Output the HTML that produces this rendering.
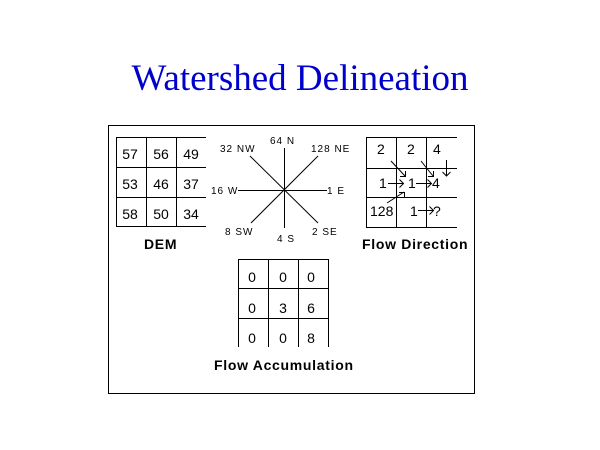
<!DOCTYPE html>
<html>
<head>
<meta charset="utf-8">
<style>
  html, body { margin: 0; padding: 0; background: #fff; }
  svg { display: block; }
  .num { font-family: "Liberation Sans", Arial, sans-serif; font-size: 14px; fill: #000; }
  .cmp { font-family: "Liberation Sans", Arial, sans-serif; font-size: 10px; fill: #000; letter-spacing: 1px; }
  .lbl { font-family: "Liberation Sans", Arial, sans-serif; font-size: 14px; font-weight: bold; fill: #000; letter-spacing: 0.7px; }
</style>
</head>
<body>
<svg width="600" height="450" viewBox="0 0 600 450" xmlns="http://www.w3.org/2000/svg">
  <rect x="0" y="0" width="600" height="450" fill="#fff"/>

  <!-- Title -->
  <text x="300" y="90" text-anchor="middle" font-family="'Liberation Serif', 'Times New Roman', serif" font-size="37" fill="#0000cc">Watershed Delineation</text>

  <!-- Outer box -->
  <rect x="108.5" y="125.5" width="366" height="268" fill="none" stroke="#000" stroke-width="1"/>

  <g stroke="#000" stroke-width="1" fill="none">
    <!-- DEM grid -->
    <line x1="116.5" y1="137.5" x2="116.5" y2="226.5"/>
    <line x1="146.5" y1="137.5" x2="146.5" y2="226.5"/>
    <line x1="176.5" y1="137.5" x2="176.5" y2="226.5"/>
    <line x1="116" y1="137.5" x2="206" y2="137.5"/>
    <line x1="116" y1="167.5" x2="206" y2="167.5"/>
    <line x1="116" y1="197.5" x2="206" y2="197.5"/>
    <line x1="116" y1="226.5" x2="206" y2="226.5"/>

    <!-- Compass -->
    <line x1="284.5" y1="148" x2="284.5" y2="228"/>
    <line x1="238" y1="190.5" x2="327" y2="190.5"/>
    <line x1="250" y1="156" x2="318" y2="223"/>
    <line x1="318" y1="156" x2="251" y2="223"/>

    <!-- Flow Direction grid -->
    <line x1="366.5" y1="137.5" x2="366.5" y2="227.5"/>
    <line x1="396.5" y1="137.5" x2="396.5" y2="227.5"/>
    <line x1="426.5" y1="137.5" x2="426.5" y2="227.5"/>
    <line x1="366" y1="137.5" x2="457" y2="137.5"/>
    <line x1="366" y1="168.5" x2="457" y2="168.5"/>
    <line x1="366" y1="197.5" x2="457" y2="197.5"/>
    <line x1="366" y1="227.5" x2="457" y2="227.5"/>

    <!-- Flow Direction arrows -->
    <line x1="391" y1="161" x2="405" y2="176"/>
    <polyline points="400,176.5 405.5,176.5 405.5,171"/>
    <line x1="421" y1="161" x2="433" y2="176"/>
    <polyline points="428,176.5 433.5,176.5 433.5,171"/>
    <line x1="446.5" y1="160" x2="446.5" y2="176"/>
    <polyline points="442.5,172 446.5,176 450.5,172"/>
    <line x1="388" y1="183.5" x2="403" y2="183.5"/>
    <polyline points="399.5,179.5 403.5,183.5 399.5,187.5"/>
    <line x1="416" y1="183.5" x2="431" y2="183.5"/>
    <polyline points="427.5,179.5 431.5,183.5 427.5,187.5"/>
    <line x1="387" y1="203" x2="404" y2="192"/>
    <polyline points="399,192.5 404.5,192.5 404.5,198"/>
    <line x1="418" y1="210.5" x2="433" y2="210.5"/>
    <polyline points="429.5,206.5 433.5,210.5 429.5,214.5"/>

    <!-- Flow Accumulation grid -->
    <line x1="238.5" y1="259.5" x2="238.5" y2="347"/>
    <line x1="268.5" y1="259.5" x2="268.5" y2="347"/>
    <line x1="298.5" y1="259.5" x2="298.5" y2="347"/>
    <line x1="328.5" y1="259.5" x2="328.5" y2="347"/>
    <line x1="238" y1="259.5" x2="329" y2="259.5"/>
    <line x1="238" y1="288.5" x2="329" y2="288.5"/>
    <line x1="238" y1="318.5" x2="329" y2="318.5"/>
  </g>

  <!-- DEM numbers -->
  <g class="num" text-anchor="middle">
    <text x="130" y="159">57</text>
    <text x="161" y="159">56</text>
    <text x="191" y="159">49</text>
    <text x="130" y="189">53</text>
    <text x="161" y="189">46</text>
    <text x="191" y="189">37</text>
    <text x="130" y="219">58</text>
    <text x="161" y="219">50</text>
    <text x="191" y="219">34</text>
  </g>
  <text class="lbl" x="144" y="249">DEM</text>

  <!-- Compass labels -->
  <text class="cmp" x="270" y="144">64 N</text>
  <text class="cmp" x="220" y="152">32 NW</text>
  <text class="cmp" x="311" y="152">128 NE</text>
  <text class="cmp" x="211" y="194">16 W</text>
  <text class="cmp" x="327" y="194">1 E</text>
  <text class="cmp" x="225" y="235">8 SW</text>
  <text class="cmp" x="277" y="242">4 S</text>
  <text class="cmp" x="312" y="235">2 SE</text>

  <!-- Flow Direction numbers -->
  <g class="num">
    <text x="377" y="154">2</text>
    <text x="407" y="154">2</text>
    <text x="433" y="154">4</text>
    <text x="379" y="188">1</text>
    <text x="408" y="188">1</text>
    <text x="432" y="188">4</text>
    <text x="370" y="216">128</text>
    <text x="410" y="216">1</text>
    <text x="433" y="216">?</text>
  </g>
  <text class="lbl" x="362" y="249">Flow Direction</text>

  <!-- Flow Accumulation numbers -->
  <g class="num" text-anchor="middle">
    <text x="252" y="282">0</text>
    <text x="283" y="282">0</text>
    <text x="311" y="282">0</text>
    <text x="252" y="313">0</text>
    <text x="283" y="313">3</text>
    <text x="311" y="313">6</text>
    <text x="252" y="343">0</text>
    <text x="283" y="343">0</text>
    <text x="311" y="343">8</text>
  </g>
  <text class="lbl" x="214" y="370">Flow Accumulation</text>
</svg>
</body>
</html>
